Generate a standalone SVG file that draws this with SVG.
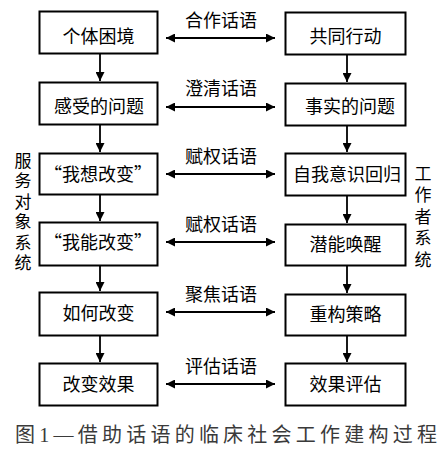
<svg xmlns="http://www.w3.org/2000/svg" width="444" height="458" viewBox="0 0 444 458">
<style>
.box{fill:#fff;stroke:#000;stroke-width:2}
.t{font-family:"Noto Sans CJK SC","Noto Sans",sans-serif;font-size:18px;fill:#000;text-anchor:middle}
.lbl{font-family:"Noto Sans CJK SC","Noto Sans",sans-serif;font-size:18px;fill:#000;text-anchor:middle}
.side{font-family:"Noto Sans CJK SC","Noto Sans",sans-serif;font-size:17px;fill:#000;writing-mode:vertical-rl;text-orientation:upright}
.cap{font-family:"Liberation Serif","Noto Sans CJK SC",serif;font-size:20px;fill:#3a3a3a}
.ln{stroke:#000;stroke-width:1.8;fill:none}
</style>
<defs>
<marker id="ah" viewBox="0 0 10 10" refX="10" refY="5" markerWidth="10" markerHeight="9" markerUnits="userSpaceOnUse" orient="auto-start-reverse">
<path d="M0,0 L10,5 L0,10 Z" fill="#000"/>
</marker>
</defs>
<rect width="444" height="458" fill="#fff"/>

<g id="connectors">
<line class="ln" x1="100" y1="54" x2="100" y2="81" marker-end="url(#ah)"/>
<line class="ln" x1="100" y1="125" x2="100" y2="152" marker-end="url(#ah)"/>
<line class="ln" x1="100" y1="195" x2="100" y2="221" marker-end="url(#ah)"/>
<line class="ln" x1="100" y1="266" x2="100" y2="291" marker-end="url(#ah)"/>
<line class="ln" x1="100" y1="336" x2="100" y2="362" marker-end="url(#ah)"/>
<line class="ln" x1="347" y1="55" x2="347" y2="82" marker-end="url(#ah)"/>
<line class="ln" x1="347" y1="126" x2="347" y2="152" marker-end="url(#ah)"/>
<line class="ln" x1="347" y1="196" x2="347" y2="223" marker-end="url(#ah)"/>
<line class="ln" x1="347" y1="266" x2="347" y2="293" marker-end="url(#ah)"/>
<line class="ln" x1="347" y1="336" x2="347" y2="362" marker-end="url(#ah)"/>
<line class="ln" x1="166" y1="38" x2="275" y2="38" marker-start="url(#ah)" marker-end="url(#ah)"/>
<line class="ln" x1="166" y1="107" x2="275" y2="107" marker-start="url(#ah)" marker-end="url(#ah)"/>
<line class="ln" x1="166" y1="174" x2="275" y2="174" marker-start="url(#ah)" marker-end="url(#ah)"/>
<line class="ln" x1="166" y1="242" x2="275" y2="242" marker-start="url(#ah)" marker-end="url(#ah)"/>
<line class="ln" x1="166" y1="312" x2="275" y2="312" marker-start="url(#ah)" marker-end="url(#ah)"/>
<line class="ln" x1="166" y1="384" x2="275" y2="384" marker-start="url(#ah)" marker-end="url(#ah)"/>
<text class="lbl" x="221" y="27">合作话语</text>
<text class="lbl" x="221" y="95">澄清话语</text>
<text class="lbl" x="221" y="163">赋权话语</text>
<text class="lbl" x="221" y="231">赋权话语</text>
<text class="lbl" x="221" y="301">聚焦话语</text>
<text class="lbl" x="221" y="373">评估话语</text>
</g>

<g id="L1"><rect class="box" x="39.5" y="11.5" width="118" height="42"/><text class="t" x="98.5" y="43">个体困境</text></g>
<g id="L2"><rect class="box" x="39.5" y="82.5" width="118" height="42"/><text class="t" x="99" y="113">感受的问题</text></g>
<g id="L3"><rect class="box" x="39.5" y="153.5" width="118" height="41"/><text class="t" x="98" y="181">“我想改变”</text></g>
<g id="L4"><rect class="box" x="39.5" y="222.5" width="118" height="43"/><text class="t" x="98" y="249">“我能改变”</text></g>
<g id="L5"><rect class="box" x="39.5" y="292.5" width="118" height="43"/><text class="t" x="98.5" y="320">如何改变</text></g>
<g id="L6"><rect class="box" x="39.5" y="363.5" width="118" height="42"/><text class="t" x="98.5" y="391">改变效果</text></g>

<g id="R1"><rect class="box" x="285.5" y="12.5" width="120" height="42"/><text class="t" x="345.5" y="43">共同行动</text></g>
<g id="R2"><rect class="box" x="285.5" y="83.5" width="120" height="42"/><text class="t" x="350" y="113">事实的问题</text></g>
<g id="R3"><rect class="box" x="285.5" y="153.5" width="120" height="42"/><text class="t" x="347" y="181">自我意识回归</text></g>
<g id="R4"><rect class="box" x="285.5" y="224.5" width="120" height="41"/><text class="t" x="345.5" y="251">潜能唤醒</text></g>
<g id="R5"><rect class="box" x="285.5" y="294.5" width="120" height="41"/><text class="t" x="345.5" y="321">重构策略</text></g>
<g id="R6"><rect class="box" x="285.5" y="363.5" width="120" height="42"/><text class="t" x="345.5" y="391">效果评估</text></g>

<g id="side-left">
<text class="side" x="23" y="152" letter-spacing="3.4">服务对象系统</text>
</g>
<g id="side-right">
<text class="side" x="423" y="165" letter-spacing="4.5">工作者系统</text>
</g>

<text class="cap" x="15" y="442" textLength="422" lengthAdjust="spacing">图1—借助话语的临床社会工作建构过程</text>
</svg>
